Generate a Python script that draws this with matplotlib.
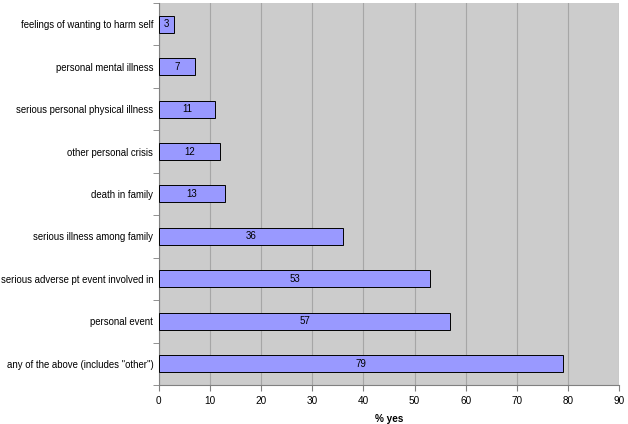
import numpy as np
import matplotlib.pyplot as plt

plt.rcParams['font.family'] = ['Liberation Sans', 'DejaVu Sans']

categories = [
    'any of the above (includes "other")',
    'personal event',
    'serious adverse pt event involved in',
    'serious illness among family',
    'death in family',
    'other personal crisis',
    'serious personal physical illness',
    'personal mental illness',
    'feelings of wanting to harm self',
]
values = [79, 57, 53, 36, 13, 12, 11, 7, 3]

fig = plt.figure(figsize=(6.28, 4.24), dpi=100)
ax = fig.add_axes([0.253, 0.092, 0.733, 0.901])
ax.set_facecolor('#cccccc')

y = np.arange(len(categories))
bars = ax.barh(y, values, height=0.4, color='#9999ff', edgecolor='black', linewidth=0.7, zorder=3)
for b, v in zip(bars, values):
    ax.text(v / 2, b.get_y() + b.get_height() / 2, str(v), ha='center', va='center',
            fontsize=7, zorder=4)

ax.set_xlim(0, 90)
ax.set_ylim(-0.5, len(categories) - 0.5)
ax.set_xticks(np.arange(0, 91, 10))
ax.set_yticks(y)
ax.set_yticklabels(categories)
ax.set_yticks(np.arange(-0.5, len(categories), 1), minor=True)
ax.tick_params(axis='y', which='major', length=0, labelsize=6.9, pad=4)
ax.tick_params(axis='y', which='minor', length=4, color='#808080')
ax.tick_params(axis='x', length=4, color='#808080', labelsize=7.2, pad=4)
ax.grid(axis='x', color='#a6a6a6', linewidth=0.8, zorder=0)
ax.set_xlabel('% yes', fontsize=7.2, fontweight='bold', labelpad=6)

for s in ['top', 'right']:
    ax.spines[s].set_visible(False)
for s in ['left', 'bottom']:
    ax.spines[s].set_color('#808080')

fig.savefig('out.png', dpi=100)
